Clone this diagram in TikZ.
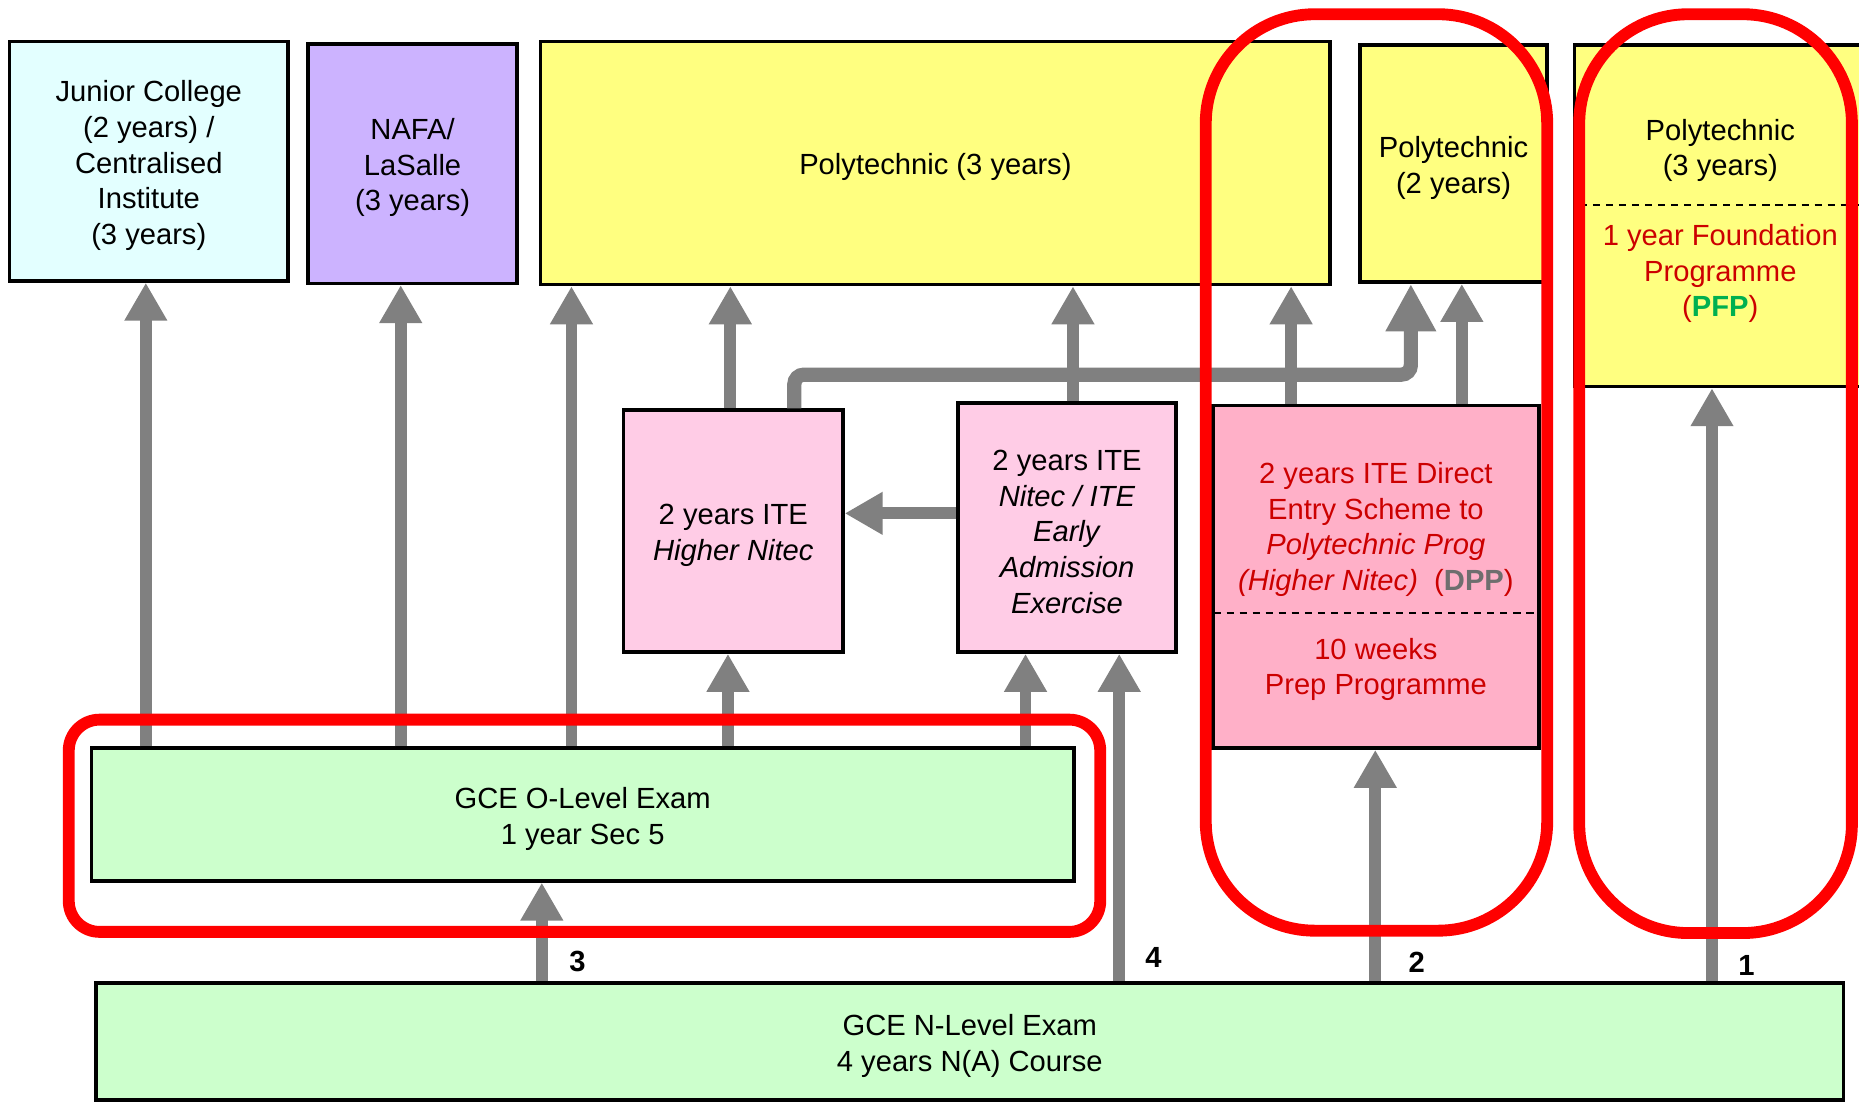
\documentclass[tikz,border=0pt]{standalone}
\usepackage{fontspec}
\setmainfont{Liberation Sans}
\usetikzlibrary{arrows.meta}
\definecolor{jccyan}{RGB}{227,255,255}
\definecolor{nafapurple}{RGB}{204,179,255}
\definecolor{polyyellow}{RGB}{255,255,128}
\definecolor{itepink}{RGB}{255,204,230}
\definecolor{dpppink}{RGB}{255,176,200}
\definecolor{examgreen}{RGB}{204,255,204}
\definecolor{arrowgray}{RGB}{128,128,128}
\definecolor{loopred}{RGB}{255,0,0}
\definecolor{textred}{RGB}{204,0,0}
\definecolor{pfpgreen}{RGB}{0,176,80}
\definecolor{dppgray}{RGB}{110,110,110}
\begin{document}
\begin{tikzpicture}[x=0.5pt,y=-0.5pt,
 box/.style={draw=black,line width=1.5pt,inner sep=0pt},
 txt/.style={inner sep=0pt,align=center,font=\fontsize{12.3}{15}\selectfont},
 flow/.style={draw=arrowgray,line width=5pt,-{Triangle[width=17pt,length=16pt]}},
 bigflow/.style={draw=arrowgray,line width=6pt,rounded corners=4pt,-{Triangle[width=20pt,length=20pt]}},
 redloop/.style={draw=loopred,line width=5pt},
 cutline/.style={dashed,dash pattern=on 3pt off 2.5pt,line width=0.8pt},
 num/.style={font=\bfseries\fontsize{12.3}{15}\selectfont,inner sep=0pt}]
\clip (0,0) rectangle (1568,930);
\fill[white] (0,0) rectangle (1568,930);

% helper coordinates
\coordinate (x123) at (123,0);
\coordinate (x338) at (338,0);
\coordinate (x457) at (457,0);
\coordinate (x482) at (482,0);
\coordinate (x614) at (614,0);
\coordinate (x616) at (616,0);
\coordinate (x670) at (670,0);
\coordinate (x865) at (865,0);
\coordinate (x905) at (905,0);
\coordinate (x944) at (944,0);
\coordinate (x1089) at (1089,0);
\coordinate (x1160) at (1160,0);
\coordinate (x1190) at (1190,0);
\coordinate (x1233) at (1233,0);
\coordinate (x1444) at (1444,0);
\coordinate (y316) at (0,316);
\coordinate (y433) at (0,433);
\coordinate (y173) at (0,173);
\coordinate (y517) at (0,517);
\coordinate (rightedge) at (1570,0);

% boxes
\node[box,fill=jccyan,minimum width=117.5pt,minimum height=101pt] (jc) at (125.5,136) {};
\node[txt] (jct) at ([yshift=-1.8pt]jc.center) {Junior College\\(2 years) /\\Centralised\\Institute\\(3 years)};
\node[box,fill=nafapurple,minimum width=88pt,minimum height=101pt] (nafa) at (348,138) {};
\node[txt] (nafat) at ([yshift=-1.8pt]nafa.center) {NAFA/\\LaSalle\\(3 years)};
\node[box,fill=polyyellow,minimum width=333pt,minimum height=102.5pt] (poly3) at (789,137.5) {};
\node[txt] (poly3t) at ([yshift=-1.8pt]poly3.center) {Polytechnic (3 years)};
\node[box,fill=polyyellow,minimum width=79pt,minimum height=100pt] (poly2) at (1226,138) {};
\node[txt] (poly2t) at ([yshift=-1.8pt]poly2.center) {Polytechnic\\(2 years)};
\node[box,fill=polyyellow,minimum width=123pt,minimum height=144pt] (pfp) at (1451,182) {};
\draw[cutline] ([xshift=3pt]pfp.west |- y173) -- (rightedge |- y173);
\node[txt] (pfptop) at (1451,127) {Polytechnic\\(3 years)};
\node[txt,text=textred] (pfpbot) at (1451,231) {1 year Foundation\\Programme\\(\textbf{\textcolor{pfpgreen}{PFP}})};

\node[box,fill=itepink,minimum width=92.5pt,minimum height=102pt] (hn) at (618.5,448) {};
\node[txt] (hnt) at ([yshift=-1.8pt]hn.center) {2 years ITE\\\textit{Higher Nitec}};
\node[box,fill=itepink,minimum width=92pt,minimum height=105pt] (nt) at (900,445) {};
\node[txt] (ntt) at ([yshift=-1.8pt]nt.center) {2 years ITE\\\textit{Nitec / ITE}\\\textit{Early}\\\textit{Admission}\\\textit{Exercise}};
\node[box,fill=dpppink,minimum width=137.5pt,minimum height=144.5pt] (dpp) at (1160.5,486.5) {};
\draw[cutline] ([xshift=1pt]dpp.west |- y517) -- ([xshift=-1pt]dpp.east |- y517);
\node[txt,text=textred] (dpptop) at (1160.5,446.5) {2 years ITE Direct\\Entry Scheme to\\\textit{Polytechnic Prog}\\\textit{(Higher Nitec)}\ \ (\textbf{\textcolor{dppgray}{DPP}})};
\node[txt,text=textred] (dppbot) at (1160.5,564.5) {10 weeks\\Prep Programme};

\node[box,fill=examgreen,minimum width=414.5pt,minimum height=56pt] (ol) at (491.5,687) {};
\node[txt] (olt) at ([yshift=-1.8pt]ol.center) {GCE O-Level Exam\\1 year Sec 5};
\node[box,fill=examgreen,minimum width=737pt,minimum height=49.5pt] (nl) at (818,878.5) {};
\node[txt] (nlt) at ([yshift=-1.8pt]nl.center) {GCE N-Level Exam\\4 years N(A) Course};

% connectors
\draw[flow] (ol.north -| x123) -- (jc.south -| x123);
\draw[flow] (ol.north -| x338) -- (nafa.south -| x338);
\draw[flow] (ol.north -| x482) -- (poly3.south -| x482);
\draw[flow] (ol.north -| x614) -- (hn.south -| x614);
\draw[flow] (ol.north -| x865) -- (nt.south -| x865);
\draw[flow] (hn.north -| x616) -- (poly3.south -| x616);
\draw[flow] (nt.north -| x905) -- (poly3.south -| x905);
\draw[flow] (nt.west |- y433) -- (hn.east |- y433);
\draw[bigflow] (hn.north -| x670) -- (x670 |- y316) -- (x1190 |- y316) -- (poly2.south -| x1190);
\draw[flow] (dpp.north -| x1089) -- (poly3.south -| x1089);
\draw[flow] (dpp.north -| x1233) -- (poly2.south -| x1233);
\draw[flow] (nl.north -| x457) -- (ol.south -| x457);
\draw[flow] (nl.north -| x944) -- (nt.south -| x944);
\draw[flow] (nl.north -| x1160) -- (dpp.south -| x1160);
\draw[flow] (nl.north -| x1444) -- (pfp.south -| x1444);

% route numbers
\node[num] (n3) at (487,811) {3};
\node[num] (n4) at (973,808) {4};
\node[num] (n2) at (1195,812) {2};
\node[num] (n1) at (1473,814) {1};

% red highlight loops
\draw[redloop,rounded corners=46pt] (1017,12) rectangle (1305,785);
\draw[redloop,rounded corners=46pt] (1332,12) rectangle (1562,787);
\draw[redloop,rounded corners=13pt] (58,607) rectangle (928,786);
\end{tikzpicture}
\end{document}
